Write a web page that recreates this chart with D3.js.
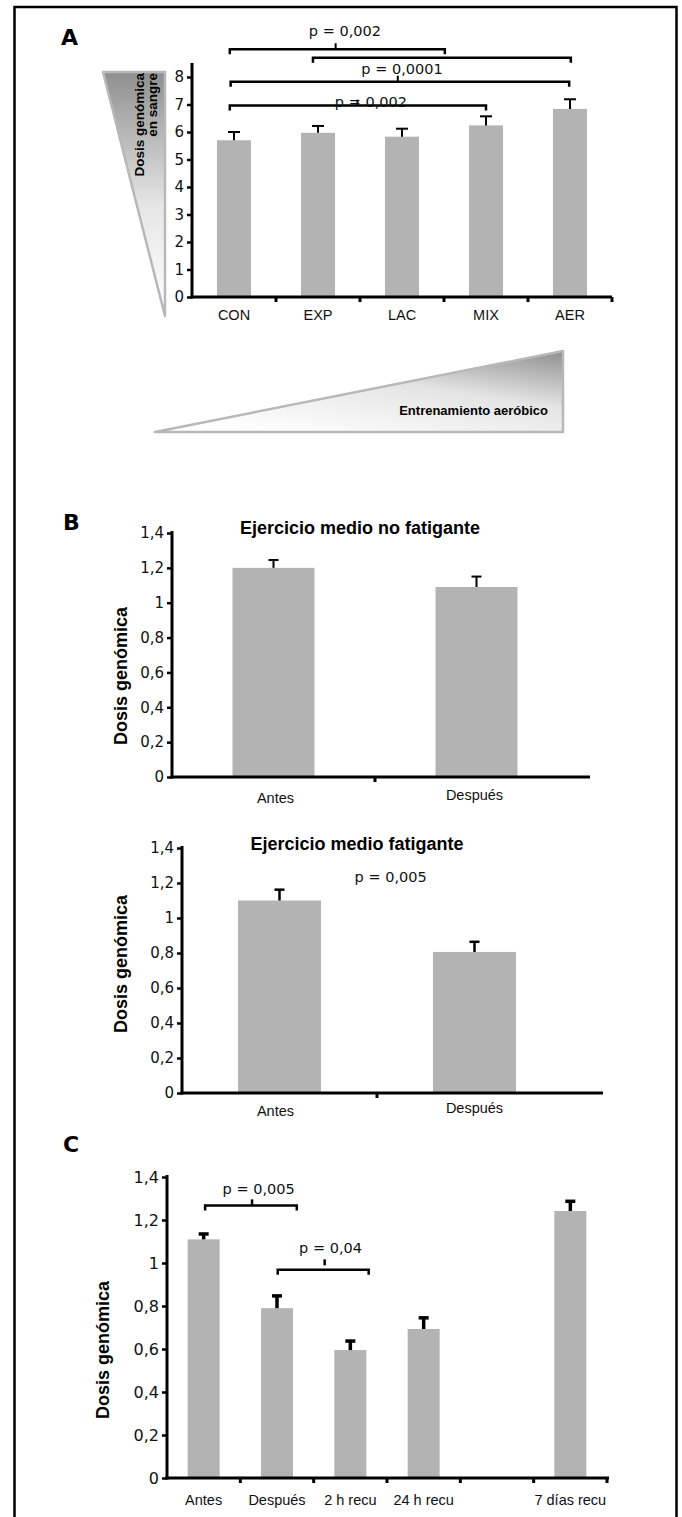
<!DOCTYPE html>
<html><head><meta charset="utf-8">
<script src="https://cdn.jsdelivr.net/npm/d3@7"></script>
<style>
html,body{margin:0;padding:0;background:#fff;}
svg{display:block;}
</style></head>
<body>
<script>
// ---------- DATA ----------
const catsA = ["CON", "EXP", "LAC", "MIX", "AER"];
const meanA = [5.70, 5.97, 5.83, 6.24, 6.84];
const errA  = [0.30, 0.25, 0.29, 0.33, 0.35];
const ticksA = [0, 1, 2, 3, 4, 5, 6, 7, 8];

const catsB = ["Antes", "Después"];
const meanB1 = [1.20, 1.09];
const errB1  = [0.045, 0.06];
const meanB2 = [1.10, 0.806];
const errB2  = [0.062, 0.058];
const ticksB = [0, 0.2, 0.4, 0.6, 0.8, 1, 1.2, 1.4];

const catsC = ["Antes", "Después", "2 h recu", "24 h recu", "", "7 días recu"];
const meanC = [1.11, 0.79, 0.595, 0.693, null, 1.242];
const errC  = [0.025, 0.057, 0.042, 0.052, null, 0.045];
const ticksC = [0, 0.2, 0.4, 0.6, 0.8, 1, 1.2, 1.4];

// significance annotations (in slot units along x, data units along y)
const bracketsA = [
  {x1: 0.45, x2: 3.01, y: 9.01, tick: 1.71, label: "p = 0,002",  lx: 1.82, ly: 9.49},
  {x1: 1.44, x2: 4.51, y: 8.70, tick: null, label: null},
  {x1: 0.46, x2: 4.49, y: 7.83, tick: 2.45, label: "p = 0,0001", lx: 2.50, ly: 8.11},
  {x1: 0.45, x2: 3.50, y: 6.96, tick: 1.97, label: "p = 0,002",  lx: 2.13, ly: 6.92}
];
const bracketsC = [
  {x1: 0.52, x2: 1.77, y: 1.268, tick: 1.16, tickGap: 0, label: "p = 0,005", lx: 1.25, ly: 1.319},
  {x1: 1.51, x2: 2.75, y: 0.969, tick: 2.15, tickGap: 0.02, label: "p = 0,04", lx: 2.23, ly: 1.046}
];
const pB2 = {label: "p = 0,005", lx: 1.07, ly: 1.205};

// ---------- SETUP ----------
const W = 682, H = 1517;
const svg = d3.select("body").append("svg").attr("width", W).attr("height", H);
const BAR = "#b3b3b3";
const numFont = "'DejaVu Sans', Verdana, sans-serif";
const boldFont = "'Liberation Sans', Arial, sans-serif";
const fmt = d => d3.format(".1~f")(d).replace(".", ",");

// frame
svg.append("rect").attr("x", 14.5).attr("y", 7).attr("width", 662).attr("height", 1540)
  .attr("fill", "none").attr("stroke", "#000").attr("stroke-width", 2.5);

const defs = svg.append("defs");
const g1 = defs.append("linearGradient").attr("id", "gv").attr("x1", 0).attr("y1", 0).attr("x2", 0).attr("y2", 1);
g1.append("stop").attr("offset", "0%").attr("stop-color", "#8f8f8f");
g1.append("stop").attr("offset", "55%").attr("stop-color", "#e6e6e6");
g1.append("stop").attr("offset", "100%").attr("stop-color", "#ffffff");
const g2 = defs.append("linearGradient").attr("id", "gh").attr("x1", 0.25).attr("y1", 1).attr("x2", 1).attr("y2", 0);
g2.append("stop").attr("offset", "0%").attr("stop-color", "#ffffff");
g2.append("stop").attr("offset", "55%").attr("stop-color", "#e4e4e4");
g2.append("stop").attr("offset", "100%").attr("stop-color", "#8f8f8f");

function panelLetter(t, x, y) {
  svg.append("text").attr("x", x).attr("y", y).text(t)
    .attr("font-family", "'DejaVu Sans', sans-serif").attr("font-weight", "bold")
    .attr("font-size", 22);
}

// generic bar panel
function barPanel(o) {
  const g = svg.append("g");
  const y = d3.scaleLinear().domain([0, o.ymax]).range([o.y0, o.y1]);
  const x = d3.scaleBand().domain(o.cats.map((c, i) => i)).range([o.x0, o.x1]).padding(0);
  const data = o.cats.map((c, i) => ({c, i, m: o.mean[i], e: o.err[i]})).filter(d => d.m != null);
  g.selectAll("rect.bar").data(data).join("rect").attr("class", "bar")
    .attr("x", d => x(d.i) + x.bandwidth() / 2 - o.bw / 2)
    .attr("width", o.bw)
    .attr("y", d => y(d.m)).attr("height", d => y(0) - y(d.m))
    .attr("fill", BAR);
  g.selectAll("line.eb").data(data).join("line").attr("class", "eb")
    .attr("x1", d => x(d.i) + x.bandwidth() / 2).attr("x2", d => x(d.i) + x.bandwidth() / 2)
    .attr("y1", d => y(d.m)).attr("y2", d => y(d.m + d.e))
    .attr("stroke", "#000").attr("stroke-width", o.ebw);
  g.selectAll("line.cap").data(data).join("line").attr("class", "cap")
    .attr("x1", d => x(d.i) + x.bandwidth() / 2 - o.cap / 2).attr("x2", d => x(d.i) + x.bandwidth() / 2 + o.cap / 2)
    .attr("y1", d => y(d.m + d.e)).attr("y2", d => y(d.m + d.e))
    .attr("stroke", "#000").attr("stroke-width", o.ebw);
  const ya = g.append("g").attr("transform", `translate(${o.x0},0)`)
    .call(d3.axisLeft(y).tickValues(o.ticks).tickSize(5).tickPadding(3).tickFormat(fmt));
  ya.select(".domain").remove();
  ya.selectAll(".tick line").attr("stroke-width", 2.5);
  ya.selectAll(".tick text").attr("font-family", numFont).attr("font-size", o.tfs).attr("fill", "#111");
  g.append("line").attr("x1", o.x0).attr("x2", o.x0).attr("y1", y(0) + 1.5).attr("y2", y.range()[1] - o.ext)
    .attr("stroke", "#000").attr("stroke-width", 3);
  g.append("line").attr("x1", o.x0 - 1.5).attr("x2", o.xend).attr("y1", y(0)).attr("y2", y(0))
    .attr("stroke", "#000").attr("stroke-width", 3);
  const bounds = o.cats.map((c, i) => x(i) + x.bandwidth()).slice(0, o.cats.length - (o.lastTick ? 0 : 1));
  g.selectAll("line.xt").data(bounds).join("line").attr("class", "xt")
    .attr("x1", d => d).attr("x2", d => d).attr("y1", y(0)).attr("y2", y(0) + 5)
    .attr("stroke", "#000").attr("stroke-width", 3);
  g.selectAll("text.xl").data(o.cats.map((c, i) => ({c, i}))).join("text").attr("class", "xl")
    .attr("x", d => x(d.i) + x.bandwidth() / 2 + (o.lxOff ? o.lxOff[d.i] : 0))
    .attr("y", d => y(0) + (o.lyOff ? o.lyOff[d.i] : o.ly))
    .attr("text-anchor", "middle").text(d => d.c)
    .attr("font-family", o.cfont).attr("font-size", o.cfs).attr("fill", "#111");
  return {g, x, y};
}

// ---------- PANEL A ----------
panelLetter("A", 61, 45);
svg.append("path").attr("d", "M103,72 L165,72 L165,316 Z")
  .attr("fill", "url(#gv)").attr("stroke", "#b8b8b8").attr("stroke-width", 2.5).attr("stroke-linejoin", "round");
svg.append("text").attr("transform", "translate(144,73) rotate(-90)").attr("text-anchor", "end")
  .text("Dosis genómica").attr("font-family", boldFont).attr("font-weight", "bold").attr("font-size", 13.5);
svg.append("text").attr("transform", "translate(157,73) rotate(-90)").attr("text-anchor", "end")
  .text("en sangre").attr("font-family", boldFont).attr("font-weight", "bold").attr("font-size", 13.5);

const A = barPanel({cats: catsA, mean: meanA, err: errA, ticks: ticksA, ymax: 8,
  x0: 192, x1: 612, xend: 612, y0: 297, y1: 77, bw: 34, cap: 12, ebw: 2, ext: 14,
  tfs: 15, cfont: "'Liberation Sans Narrow', 'Arial Narrow', sans-serif", cfs: 14.5, ly: 23, lastTick: true});
const xsA = v => 192 + A.x.step() * v;
bracketsA.forEach(b => {
  const yy = A.y(b.y), drop = 5;
  A.g.append("path").attr("d", `M${xsA(b.x1)},${yy + drop} V${yy} H${xsA(b.x2)} V${yy + drop}`)
    .attr("fill", "none").attr("stroke", "#000").attr("stroke-width", 2.5);
  if (b.tick != null)
    A.g.append("line").attr("x1", xsA(b.tick)).attr("x2", xsA(b.tick)).attr("y1", yy).attr("y2", yy - 6)
      .attr("stroke", "#000").attr("stroke-width", 2);
  if (b.label)
    A.g.append("text").attr("x", xsA(b.lx)).attr("y", A.y(b.ly)).attr("text-anchor", "middle").text(b.label)
      .attr("font-family", numFont).attr("font-size", 14.5).attr("fill", "#111");
});

svg.append("path").attr("d", "M155,432 L563,351 L563,432 Z")
  .attr("fill", "url(#gh)").attr("stroke", "#b8b8b8").attr("stroke-width", 2.5).attr("stroke-linejoin", "round");
svg.append("text").attr("x", 548).attr("y", 415).attr("text-anchor", "end").text("Entrenamiento aeróbico")
  .attr("font-family", boldFont).attr("font-weight", "bold").attr("font-size", 13);

// ---------- PANEL B ----------
panelLetter("B", 63, 530);
function yLabel(x, y, fs) {
  svg.append("text").attr("transform", `translate(${x},${y}) rotate(-90)`).attr("text-anchor", "middle")
    .text("Dosis genómica").attr("font-family", boldFont).attr("font-weight", "bold").attr("font-size", fs);
}
function title(t, x, y) {
  svg.append("text").attr("x", x).attr("y", y).attr("text-anchor", "middle").text(t)
    .attr("font-family", boldFont).attr("font-weight", "bold").attr("font-size", 18);
}
title("Ejercicio medio no fatigante", 360, 534);
yLabel(127, 676, 18);
barPanel({cats: catsB, mean: meanB1, err: errB1, ticks: ticksB, ymax: 1.4,
  x0: 172, x1: 578, xend: 590, y0: 777, y1: 533, bw: 82, cap: 10, ebw: 2, ext: 2,
  tfs: 15, cfont: "'Liberation Sans', Arial, sans-serif", cfs: 14.5, lyOff: [26, 23], lxOff: [2, -2], lastTick: false});

title("Ejercicio medio fatigante", 357, 850);
yLabel(127, 964, 18);
const B2 = barPanel({cats: catsB, mean: meanB2, err: errB2, ticks: ticksB, ymax: 1.4,
  x0: 182, x1: 572, xend: 603, y0: 1093, y1: 848, bw: 83, cap: 10, ebw: 2.5, ext: 2,
  tfs: 15, cfont: "'Liberation Sans', Arial, sans-serif", cfs: 14.5, lyOff: [23, 20], lxOff: [-4, 0], lastTick: false});
B2.g.append("text").attr("x", 182 + B2.x.step() * pB2.lx).attr("y", B2.y(pB2.ly)).attr("text-anchor", "middle")
  .text(pB2.label).attr("font-family", numFont).attr("font-size", 14.5).attr("fill", "#111");

// ---------- PANEL C ----------
panelLetter("C", 63, 1152);
yLabel(109, 1350, 18);
const C = barPanel({cats: catsC, mean: meanC, err: errC, ticks: ticksC, ymax: 1.4,
  x0: 167, x1: 607, xend: 609, y0: 1478, y1: 1177, bw: 32, cap: 10, ebw: 3.5, ext: 2,
  tfs: 16, cfont: "'Liberation Sans', Arial, sans-serif", cfs: 14.5, ly: 27, lastTick: true});
const xsC = v => 167 + C.x.step() * v;
bracketsC.forEach(b => {
  const yy = C.y(b.y), drop = 5;
  C.g.append("path").attr("d", `M${xsC(b.x1)},${yy + drop} V${yy} H${xsC(b.x2)} V${yy + drop}`)
    .attr("fill", "none").attr("stroke", "#000").attr("stroke-width", 2.5);
  C.g.append("line").attr("x1", xsC(b.tick)).attr("x2", xsC(b.tick))
    .attr("y1", C.y(b.y + b.tickGap)).attr("y2", C.y(b.y + b.tickGap) - 6)
    .attr("stroke", "#000").attr("stroke-width", 2.5);
  C.g.append("text").attr("x", xsC(b.lx)).attr("y", C.y(b.ly)).attr("text-anchor", "middle").text(b.label)
    .attr("font-family", numFont).attr("font-size", 14.5).attr("fill", "#111");
});
</script>
</body></html>
